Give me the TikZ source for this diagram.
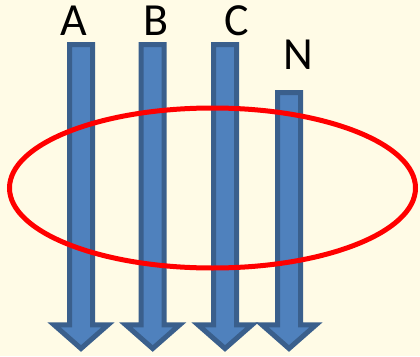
\documentclass[tikz,border=0pt]{standalone}
\usepackage{fontspec}
\setmainfont{Carlito}
\definecolor{bgc}{HTML}{FFFBE6}
\definecolor{arrfill}{HTML}{4F81BD}
\definecolor{arrdraw}{HTML}{3A5F8C}
\begin{document}
\begin{tikzpicture}[x=1pt,y=-1pt,
  downarrow/.style={fill=arrfill,draw=arrdraw,line width=5pt,miter limit=10},
  ring/.style={draw=red,line width=5pt},
  lab/.style={anchor=base,inner sep=0pt,font=\fontsize{46}{50}\selectfont}]
\fill[bgc] (0,0) rectangle (420,356);
\useasboundingbox (0,0) rectangle (420,356);
\foreach \c/\t in {81/44.5,152.7/44.5,225/44.5,289/92.5}{
  \draw[downarrow] (\c-11.5,\t) -- (\c+11.5,\t) -- (\c+11.5,324.8) -- (\c+27,324.8)
    -- (\c,348.5) -- (\c-27,324.8) -- (\c-11.5,324.8) -- cycle;
}
\draw[ring] (212.5,188) ellipse[x radius=203,y radius=80];
\node[lab] (la) at (74,35) {A};
\node[lab] (lb) at (155.8,35) {B};
\node[lab] (lc) at (236.7,35) {C};
\node[lab] (ln) at (298.7,69.3) {N};
\end{tikzpicture}
\end{document}
